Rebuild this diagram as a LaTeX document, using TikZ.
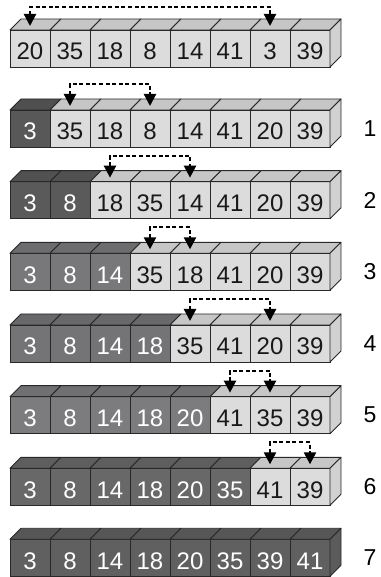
\documentclass[tikz,border=0pt]{standalone}
\usepackage{fontspec}
\setmainfont{Liberation Sans}
\definecolor{cellgray}{RGB}{220,220,220}
\definecolor{edgegray}{RGB}{40,40,40}
\definecolor{sort1}{RGB}{88,88,88}
\definecolor{sort2}{RGB}{90,90,90}
\definecolor{sort3}{RGB}{120,120,122}
\definecolor{sort4}{RGB}{116,116,118}
\definecolor{sort5}{RGB}{124,124,127}
\definecolor{sort6}{RGB}{104,104,104}
\definecolor{sort7}{RGB}{96,96,96}
\usetikzlibrary{arrows.meta}

\tikzset{
  cell/.style={draw=edgegray, line width=0.9pt, minimum width=40pt, minimum height=37pt,
    inner sep=0pt, outer sep=0pt, text height=23pt, text depth=0pt,
    font=\fontsize{24}{26}\selectfont},
  topface/.style={draw=edgegray, line width=0.9pt, line join=round},
  swaparrow/.style={line width=2.3pt, dash pattern=on 4pt off 2.6pt,
    {Triangle[width=12pt,length=12pt]}-{Triangle[width=12pt,length=12pt]}},
  steplabel/.style={font=\fontsize{23}{25}\selectfont}
}

\begin{document}
\begin{tikzpicture}[x=40pt,y=40pt]
    \useasboundingbox (0,0) rectangle (9.5,14.425);
    % one row of cubes per pass
    \foreach \r/\y/\vals/\done/\a/\b/\h in {
        0/13.2125/{20,35,18,8,14,41,3,39}/0/0/6/19pt,
        1/11.2125/{3,35,18,8,14,41,20,39}/1/1/3/22pt,
        2/9.4208/{3,8,18,35,14,41,20,39}/2/2/4/22pt,
        3/7.6292/{3,8,14,35,18,41,20,39}/3/3/4/22pt,
        4/5.8375/{3,8,14,18,35,41,20,39}/4/4/6/22pt,
        5/4.0458/{3,8,14,18,20,41,35,39}/5/5/6/22pt,
        6/2.2542/{3,8,14,18,20,35,41,39}/6/6/7/22pt,
        7/0.48/{3,8,14,18,20,35,39,41}/8/-1/-1/0pt}
    {
        \foreach \v [count=\i from 0] in \vals {
            \ifnum\i<\done \def\fc{sort\r}\def\tc{white}\else \def\fc{cellgray}\def\tc{black!90}\fi
            \node[cell, fill=\fc, text=\tc] (c-\r-\i) at (0.75+\i,\y) {\v};
            \draw[topface, fill=\fc!90!black] (c-\r-\i.north west) -- ++(11pt,11pt) -- ++(40pt,0)
                -- (c-\r-\i.north east) -- cycle;
            \ifnum\i=7
                \draw[topface, fill=\fc!95!black] (c-\r-\i.north east) -- ++(11pt,11pt) -- ++(0,-37pt)
                    -- (c-\r-\i.south east) -- cycle;
            \fi
        }
        \ifnum\r>0 \node[steplabel] (lab-\r) at (9.25,\y) {\r};\fi
        \ifnum\a>-1
            \draw[swaparrow] ([yshift=4pt]c-\r-\a.north) -- ++(0,\h) -| ([yshift=4pt]c-\r-\b.north);
        \fi
    }
\end{tikzpicture}
\end{document}
